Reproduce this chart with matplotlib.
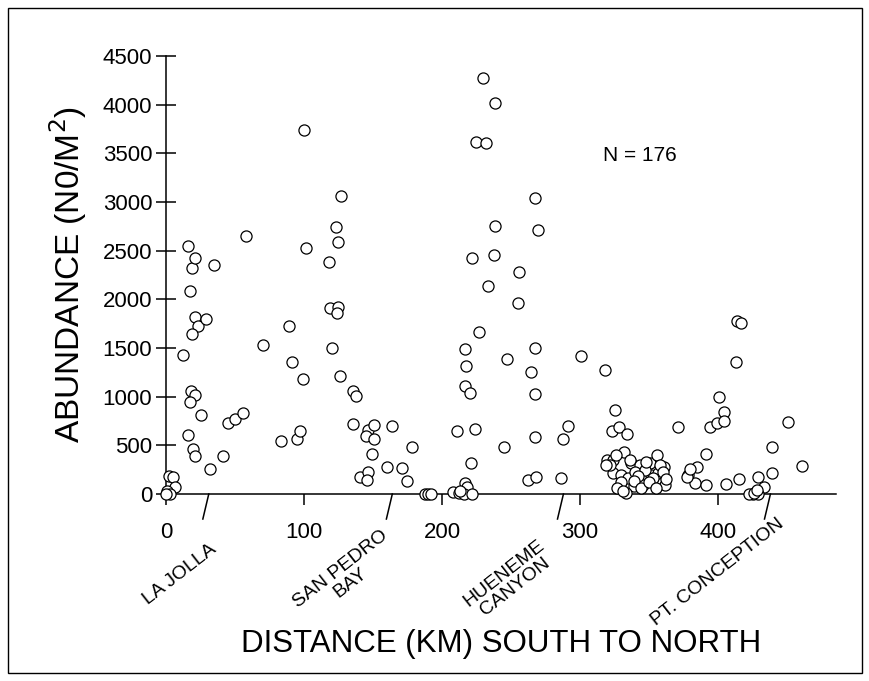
import numpy as np
import matplotlib.pyplot as plt
from matplotlib.patches import Rectangle

plt.rcParams['font.family'] = ['Liberation Sans', 'DejaVu Sans']

# distance (km, south to north) and abundance (no./m^2)
dist_km = [
    2, 5, 6.5, 1, 3, 0,
    12.1, 15.7, 17.2, 18.8, 21, 21, 23, 18.8, 29, 34.8, 17.9, 21, 17.4, 25.6,
    15.9, 19.8, 20.8, 31.9, 41.1, 45.1, 50, 55.6, 57.7,
    70, 83.3, 88.9, 91.5, 94.7, 97.1, 99.5, 100, 101.4, 118.1, 118.8, 124.4,
    123.7, 120, 123.2, 124.6, 126.6, 126.3,
    135.3, 137.7, 135.7, 146.4, 150.7, 144.9, 150.5, 163.8, 149.5, 178.5,
    140.6, 146.4, 145.9, 160.1, 171, 174.4, 187.7, 189.6, 191.7,
    207.7, 212.5, 216.7, 218.3, 216, 222, 211.1, 220.8, 223.9, 216.4, 217.4,
    216.9, 220.5, 222, 224.6, 227, 230,
    231.9, 233.6, 237.7, 238.2, 238.6, 244.7, 246.9, 255.3, 255.8, 262.1,
    264.3, 267.2, 267.4, 267.4, 267.6, 267.9, 269.8, 286.4, 287.9, 291.5, 300.7,
    318, 325.6, 323, 328, 333.8, 319.8, 324, 332, 324.2, 329.6, 337, 343.5,
    350.4, 355.8, 360.7, 361.4, 334.5, 338.8, 345.5, 351.6, 356.5, 333.2,
    322, 330, 340, 347, 353, 358, 327, 342, 336, 348, 331, 360,
    371, 378.5, 383.4, 384.6, 377.3, 391, 391, 394.2, 399, 401, 404.3, 404.3,
    405.8,
    413, 413.5, 417, 415.2, 428.7, 433.6, 439, 439, 451, 461, 425.6, 427.3,
    429.2, 422.5, 426,
    326, 339, 344, 350, 355, 362, 380, 319, 213, 428,
]
abundance = [
    185, 175, 70, 30, 0, 5,
    1428, 2551, 2089, 2319, 2421, 1815, 1729, 1641, 1798, 2356, 1058, 1017, 942, 812,
    603, 459, 393, 257, 387, 726, 767, 829, 2654,
    1528, 541, 1726, 1359, 562, 644, 1185, 3743, 2524, 2380, 1911, 1918,
    1857, 1503, 2740, 2592, 3059, 1212,
    1061, 1007, 722, 661, 706, 593, 562, 702, 414, 480,
    175, 223, 144, 277, 264, 137, 0, 0, 0,
    24, 7, 116, 75, 0, 0, 647, 315, 671, 1490, 1318,
    1106, 1035, 2428, 3617, 1668, 4270,
    3610, 2141, 2456, 2750, 4020, 480, 1384, 1962, 2278, 144,
    1253, 1024, 589, 3038, 1503, 171, 2716, 168, 568, 699, 1421,
    1274, 863, 647, 688, 613, 349, 349, 435, 212, 195, 315, 298,
    315, 401, 281, 92, 161, 82, 92, 195, 212, 7,
    300, 120, 230, 250, 160, 300, 60, 180, 350, 330, 30, 230,
    685, 195, 110, 281, 178, 411, 92, 692, 726, 993, 846, 753,
    103,
    1360, 1781, 1754, 154, 171, 75, 212, 480, 740, 290, 0, 24,
    0, 0, 10,
    400, 130, 60, 120, 60, 150, 260, 300, 30, 40,
]

xticks = [0, 100, 200, 300, 400]
yticks = list(range(0, 4501, 500))
site_km = [31, 164, 288, 438]
site_names = ['LA JOLLA', 'SAN PEDRO\nBAY', 'HUENEME\nCANYON', 'PT. CONCEPTION']
site_label_x = [10, 130, 249, 400]
site_label_y = [-830, -840, -880, -800]

fig = plt.figure(figsize=(8.7, 6.81), dpi=100)
ax = fig.add_axes([0.1908, 0.2746, 0.7701, 0.6432])

ax.plot(dist_km, abundance, 'o', ms=8, mfc='white', mec='black', mew=0.9,
        clip_on=False, zorder=3)

ax.set_xlim(0, 485.5)
ax.set_ylim(0, 4500)
ax.set_xticks(xticks)
ax.set_yticks(yticks)
ax.spines['top'].set_visible(False)
ax.spines['right'].set_visible(False)
ax.spines['left'].set_linewidth(1.1)
ax.spines['bottom'].set_linewidth(1.1)
ax.tick_params(axis='y', direction='inout', length=13.7, width=1.1, labelsize=16, pad=3)
ax.tick_params(axis='x', direction='out', length=8, width=1.1, labelsize=16, pad=12)

# slanted site markers below the axis
for k, name, lx, ly in zip(site_km, site_names, site_label_x, site_label_y):
    ax.plot([k, k - 4.3], [0, -257], color='black', lw=1.1, clip_on=False)
    ax.text(lx, ly, name, rotation=38, ha='center', va='center',
            multialignment='center', fontsize=14, linespacing=1.0)

ax.text(317, 3480, 'N = 176', fontsize=15, ha='left', va='center')

ax.set_ylabel('ABUNDANCE (N0/M$^2$)', fontsize=24, labelpad=10)
ax.set_xlabel('DISTANCE (KM) SOUTH TO NORTH', fontsize=22.5, labelpad=62)

fig.patches.append(Rectangle((0.0092, 0.0117), 0.9816, 0.9765, transform=fig.transFigure,
                             fill=False, edgecolor='black', lw=1.0))

fig.savefig('out.png', dpi=100)
